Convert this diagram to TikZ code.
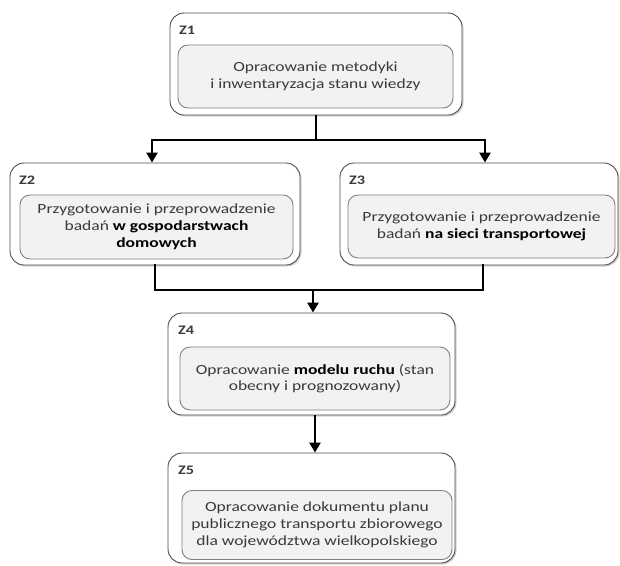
\documentclass[tikz,border=0pt]{standalone}
\usepackage{fontspec}
\setmainfont{Carlito}[FakeStretch=1.25]
\usetikzlibrary{shadows,arrows.meta}
\definecolor{txt}{HTML}{3A3A3A}
\definecolor{innerfill}{HTML}{F2F2F2}
\definecolor{innerdraw}{HTML}{7F7F7F}
\begin{document}
\begin{tikzpicture}[x=1pt,y=-1pt,
  outerbox/.style={draw=black!70, line width=0.9pt, rounded corners=14pt, fill=white,
    drop shadow={shadow xshift=1.5pt, shadow yshift=-1.5pt, fill=black!35}, inner sep=0pt},
  innerbox/.style={draw=innerdraw, line width=0.9pt, rounded corners=10pt, fill=innerfill,
    align=center, font=\fontsize{14}{16.8}\selectfont, text=txt, inner sep=0pt},
  zlabel/.style={anchor=west, font=\fontsize{13}{15}\selectfont\bfseries, text=txt, inner sep=0pt},
  conn/.style={line width=2.8pt, black},
  arr/.style={conn, -{Triangle[length=10pt,width=11pt]}}
]
\useasboundingbox (0,0) rectangle (620,565);
% outer boxes
\node[outerbox, minimum width=292pt, minimum height=102pt] (z1o) at (316,64) {};
\node[outerbox, minimum width=290pt, minimum height=102pt] (z2o) at (155,214) {};
\node[outerbox, minimum width=278pt, minimum height=102pt] (z3o) at (479,214) {};
\node[outerbox, minimum width=287pt, minimum height=102pt] (z4o) at (311.5,364) {};
\node[outerbox, minimum width=287pt, minimum height=110pt] (z5o) at (311.5,508) {};
% labels
\node[zlabel] (l1) at (179,30) {Z1};
\node[zlabel] (l2) at (19,180) {Z2};
\node[zlabel] (l3) at (349,180) {Z3};
\node[zlabel] (l4) at (178,330) {Z4};
\node[zlabel] (l5) at (178,470) {Z5};
% inner boxes
\node[innerbox, minimum width=275pt, minimum height=63pt] (z1i) at (315.5,76.5)
  {Opracowanie metodyki\\i inwentaryzacja stanu wiedzy};
\node[innerbox, minimum width=273pt, minimum height=64pt] (z2i) at (156.5,227)
  {Przygotowanie i przeprowadzenie\\bada\'n \textcolor{black}{\textbf{w gospodarstwach}}\\\textcolor{black}{\textbf{domowych}}};
\node[innerbox, minimum width=267pt, minimum height=63pt] (z3i) at (481.5,226.5)
  {Przygotowanie i przeprowadzenie\\bada\'n \textcolor{black}{\textbf{na sieci transportowej}}};
\node[innerbox, minimum width=270pt, minimum height=63pt] (z4i) at (315,378.5)
  {Opracowanie \textcolor{black}{\textbf{modelu ruchu}} (stan\\obecny i prognozowany)};
\node[innerbox, minimum width=270pt, minimum height=69pt] (z5i) at (317,525)
  {Opracowanie dokumentu planu\\publicznego transportu zbiorowego\\dla województwa wielkopolskiego};
% connectors
\coordinate (j1) at (316,140);
\coordinate (j2) at (313,290);
\draw[conn] (z1o.south) -- (j1);
\draw[arr] ([xshift=-3pt]j1 -| z2o.north) -- ([xshift=-3pt]z2o.north);
\draw[arr] ([xshift=6pt]j1 -| z3o.north) -- ([xshift=6pt]z3o.north);
\draw[conn, line cap=rect] ([xshift=-3pt]j1 -| z2o.north) -- ([xshift=6pt]j1 -| z3o.north);
\draw[conn, line cap=rect] (z2o.south) |- (j2);
\draw[conn, line cap=rect] ([xshift=4pt]z3o.south) |- (j2);
\draw[arr] (j2) -- (j2 |- z4o.north);
\draw[arr] ([xshift=3.5pt]z4o.south) -- ([xshift=3.5pt]z5o.north);
\end{tikzpicture}
\end{document}
